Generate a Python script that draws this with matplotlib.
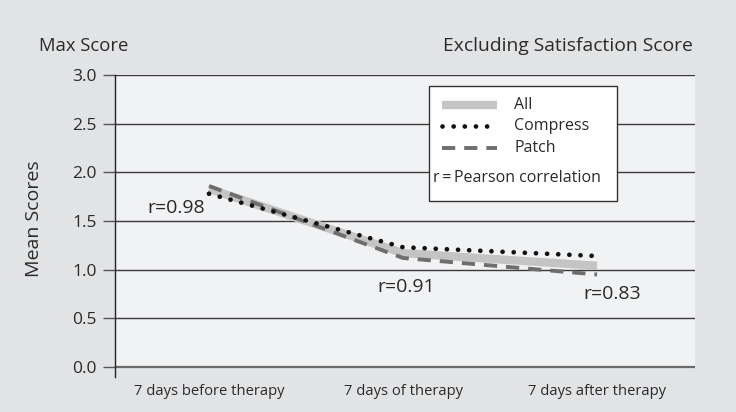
import matplotlib
matplotlib.use("Agg")
import matplotlib.pyplot as plt
from matplotlib.lines import Line2D
from matplotlib.patches import Rectangle

categories = ["7 days before therapy", "7 days of therapy", "7 days after therapy"]
all_vals = [1.83, 1.17, 1.04]
compress_vals = [1.78, 1.23, 1.14]
patch_vals = [1.86, 1.12, 0.95]
r_labels = ["r=0.98", "r=0.91", "r=0.83"]
yticks = [0.0, 0.5, 1.0, 1.5, 2.0, 2.5, 3.0]

W, H = 736, 412
FONT = ["Open Sans", "DejaVu Sans"]
plt.rcParams['font.family'] = FONT
TXT = "#2a2a2a"

fig = plt.figure(figsize=(W / 100, H / 100), dpi=100)
fig.patch.set_facecolor("#e2e3e5")

def fx(px):
    return px / W

def fy(py):
    return 1 - py / H

ax = fig.add_axes([fx(115), fy(377), fx(695) - fx(115), fy(75) - fy(377)])
ax.set_facecolor("none")
ax.set_xlim(-0.4845, 2.505)
ax.set_ylim(-0.103, 3.0)

# lighter plot area
ax.axhspan(0, 3.0, color="#f1f2f4", zorder=0, lw=0)
for t in yticks:
    if t == 0.0:
        ax.axhline(t, color="#6a6a6a", lw=1.6, zorder=1)
    else:
        ax.axhline(t, color="#3a3a3a", lw=1.0, zorder=1)

for s in ["top", "right", "bottom"]:
    ax.spines[s].set_visible(False)
ax.spines["left"].set_color("#222222")
ax.spines["left"].set_linewidth(1.0)
ax.spines["left"].set_bounds(-0.103, 3.0)

ax.set_yticks(yticks)
ax.set_yticklabels([f"{t:.1f}" for t in yticks], fontsize=12.5, color=TXT)
ax.tick_params(axis="y", length=9, width=1.0, color="#555555", pad=4)
x = list(range(len(categories)))
ax.set_xticks(x)
ax.set_xticklabels(categories, fontsize=10.6, color=TXT)
ax.tick_params(axis="x", length=0, pad=5)

# series
ax.plot(x, all_vals, color="#c4c4c4", lw=6, solid_capstyle="butt", zorder=3)
ax.plot(x, patch_vals, color="#6e6e6e", lw=2.8, linestyle=(0, (3.4, 2.3)),
        dash_capstyle="butt", zorder=4)
ax.plot(x, compress_vals, color="#111111", lw=3.4, linestyle=(0, (0.01, 2.35)),
        dash_capstyle="round", zorder=5)

# correlation labels
fig.text(fx(176), fy(208), r_labels[0], fontsize=14, ha="center", va="center", color=TXT)
fig.text(fx(406), fy(287), r_labels[1], fontsize=14, ha="center", va="center", color=TXT)
fig.text(fx(612), fy(294), r_labels[2], fontsize=14, ha="center", va="center", color=TXT)

# headers
fig.text(fx(39), fy(46), "Max Score", fontsize=13.3, ha="left", va="center", color=TXT)
fig.text(fx(693), fy(46), "Excluding Satisfaction Score", fontsize=13.9, ha="right",
         va="center", color=TXT)
fig.text(fx(34), fy(219), "Mean Scores", fontsize=14, ha="center", va="center",
         rotation=90, color=TXT)

# legend box (manual)
box = Rectangle((fx(429), fy(201)), fx(617) - fx(429), fy(86) - fy(201),
                transform=fig.transFigure, facecolor="white", edgecolor="#333333",
                lw=1.0, zorder=10)
fig.patches.append(box)
hx0, hx1 = fx(442), fx(497)
entries = [("All", 105, dict(color="#c4c4c4", lw=6, solid_capstyle="butt")),
           ("Compress", 126, dict(color="#111111", lw=3.4, linestyle=(0, (0.01, 2.35)),
                                  dash_capstyle="round")),
           ("Patch", 148, dict(color="#6e6e6e", lw=2.8, linestyle=(0, (3.4, 2.3)),
                               dash_capstyle="butt"))]
for label, py, kw in entries:
    fig.lines.append(Line2D([hx0, hx1], [fy(py), fy(py)], transform=fig.transFigure,
                            zorder=11, **kw))
    fig.text(fx(514), fy(py), label, fontsize=11.5, ha="left", va="center",
             color=TXT, zorder=12)
fig.text(fx(433), fy(178), "r\u2009=\u2009Pearson correlation", fontsize=11.5, ha="left",
         va="center", color=TXT, zorder=12)

fig.savefig("out.png", dpi=100, facecolor=fig.get_facecolor())
